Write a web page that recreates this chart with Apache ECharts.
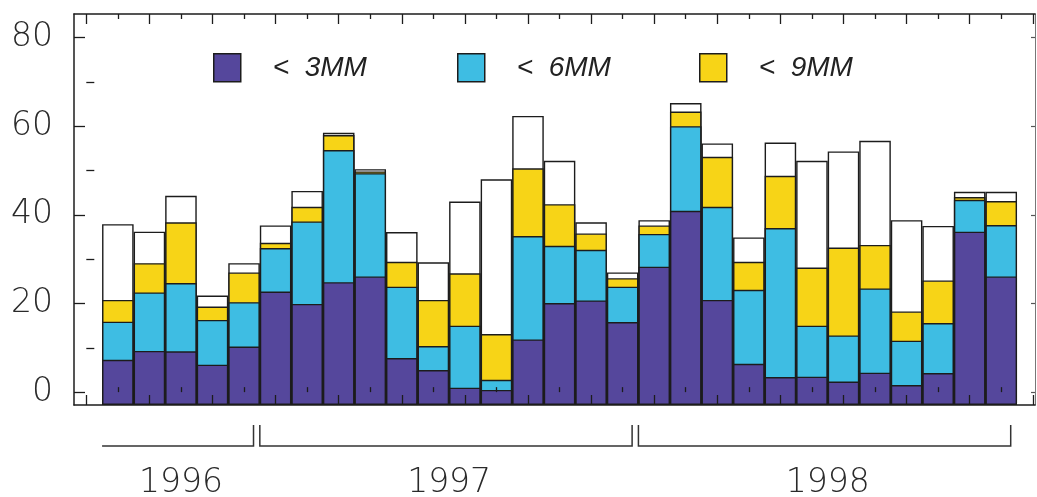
<!DOCTYPE html>
<html><head><meta charset="utf-8">
<script src="https://cdn.jsdelivr.net/npm/echarts@6/dist/echarts.min.js"></script>
<style>html,body{margin:0;padding:0;background:#fff}#c{width:1037px;height:497px}</style>
</head><body><div id="c"></div>
<script>
// ---- data ----
const barIndex = [1,2,3,4,5,6,7,8,9,10,11,12,13,14,15,16,17,18,19,20,21,22,23,24,25,26,27,28,29];
// cumulative heights of each bar
const lt3 = [7.3,9.3,9.2,6.2,10.3,22.7,19.9,24.8,26.1,7.7,5.0,1.0,0.5,11.9,20.1,20.7,15.8,28.3,40.9,20.8,6.4,3.4,3.5,2.4,4.4,1.6,4.3,36.2,26.1];
const lt6 = [15.9,22.5,24.6,16.3,20.3,32.5,38.5,54.6,49.4,23.8,10.4,15.0,2.8,35.2,33.0,32.1,23.8,35.7,60.0,41.8,23.1,37.0,15.0,12.8,23.4,11.6,15.6,43.4,37.7];
const lt9 = [20.8,29.1,38.3,19.3,27.0,33.7,41.8,58.0,49.8,29.4,20.8,26.8,13.1,50.5,42.4,35.8,25.7,37.6,63.3,53.1,29.4,48.8,28.1,32.6,33.2,18.2,25.2,44.0,43.1];
const total = [37.9,36.2,44.3,21.8,29.1,37.6,45.4,58.5,50.3,36.1,29.3,43.0,48.0,62.3,52.2,38.3,27.0,38.8,65.2,56.1,34.9,56.3,52.2,54.3,56.7,38.8,37.5,45.2,45.2];
const seriesNames = ['< 3MM', '< 6MM', '< 9MM'];
const years = ['1996', '1997', '1998'];
const yearSpans = [[1, 5], [6, 17], [18, 29]];
const yTickMajor = [0, 20, 40, 60, 80];
const yTickMinor = [10, 30, 50, 70];
const xTickMajor = [0,2,4,6,8,10,12,14,16,18,20,22,24,26,28,30];
const xTickMinor = [1,3,5,7,9,11,13,15,17,19,21,23,25,27,29];

// ---- layout / style ----
const YMIN = -2.9, YMAX = 85.3, XMIN = -0.39, XMAX = 30.07;
const GRID = { left: 74, right: 2, top: 14, bottom: 92, outerBoundsMode: 'none', containLabel: false };
const COLORS = { lt3: '#55479c', lt6: '#3ebde3', lt9: '#f7d417', rest: '#ffffff' };
const LINE = '#1c1c1c';
const FONT = 'DejaVu Sans';
const yearMid = yearSpans.map(s => (s[0] + s[1]) / 2);

const chart = echarts.init(document.getElementById('c'), null, { renderer: 'canvas' });

function barSeries(name, values, color) {
  return {
    name, type: 'bar', xAxisIndex: 0, yAxisIndex: 0,
    data: barIndex.map((x, i) => [x, values[i]]),
    barWidth: '100%', barGap: '-100%',
    itemStyle: { color, borderColor: LINE, borderWidth: 1.4 },
    emphasis: { disabled: true }, silent: true
  };
}
function legendAt(name, left) {
  return {
    data: [name], left, top: 53, padding: 0, icon: 'rect',
    itemWidth: 27, itemHeight: 28,
    itemStyle: { borderColor: LINE, borderWidth: 1.5 },
    formatter: n => n.replace('< ', '<  '),
    textStyle: { fontFamily: 'Liberation Sans', fontStyle: 'italic', fontSize: 28, color: '#222', padding: [0, 0, 0, 27] },
    selectedMode: false
  };
}
const xBase = { type: 'value', min: XMIN, max: XMAX, splitLine: { show: false }, z: 5 };
const yBase = { type: 'value', min: YMIN, max: YMAX, splitLine: { show: false }, z: 5 };

chart.setOption({
  animation: false,
  backgroundColor: '#fff',
  grid: [Object.assign({}, GRID), Object.assign({}, GRID)],
  legend: [legendAt(seriesNames[0], 213), legendAt(seriesNames[1], 457), legendAt(seriesNames[2], 699)],
  xAxis: [
    Object.assign({}, xBase, { gridIndex: 0, position: 'bottom',
      axisLine: { show: true, onZero: false, lineStyle: { color: LINE, width: 1.5 } },
      axisTick: { show: true, inside: true, length: 10, customValues: xTickMajor, lineStyle: { color: LINE, width: 1.3 } },
      axisLabel: { show: true, customValues: yearMid, margin: 62, fontFamily: FONT, fontWeight: 300, fontSize: 33, color: '#2a2a2a',
        formatter: v => { const k = yearMid.findIndex(m => Math.abs(m - v) < 1e-6); return k >= 0 ? years[k] : ''; } } }),
    Object.assign({}, xBase, { gridIndex: 0, position: 'top',
      axisLine: { show: true, onZero: false, lineStyle: { color: LINE, width: 1.5 } },
      axisTick: { show: true, inside: true, length: 10, customValues: xTickMajor, lineStyle: { color: LINE, width: 1.3 } },
      axisLabel: { show: false } }),
    Object.assign({}, xBase, { gridIndex: 1, position: 'bottom',
      axisLine: { show: false },
      axisTick: { show: true, inside: true, length: 5, customValues: xTickMinor, lineStyle: { color: LINE, width: 1.3 } },
      axisLabel: { show: false } }),
    Object.assign({}, xBase, { gridIndex: 1, position: 'top',
      axisLine: { show: false },
      axisTick: { show: true, inside: true, length: 5, customValues: xTickMinor, lineStyle: { color: LINE, width: 1.3 } },
      axisLabel: { show: false } })
  ],
  yAxis: [
    Object.assign({}, yBase, { gridIndex: 0, position: 'left', startValue: YMIN,
      axisLine: { show: true, onZero: false, lineStyle: { color: LINE, width: 1.5 } },
      axisTick: { show: true, inside: true, length: 11, customValues: yTickMajor, lineStyle: { color: LINE, width: 1.3 } },
      axisLabel: { show: true, customValues: yTickMajor, margin: 21, fontFamily: FONT, fontWeight: 300, fontSize: 33, color: '#2a2a2a' } }),
    Object.assign({}, yBase, { gridIndex: 0, position: 'right',
      axisLine: { show: true, onZero: false, lineStyle: { color: '#777', width: 1 } },
      axisTick: { show: true, inside: true, length: 4, customValues: yTickMajor, lineStyle: { color: '#555', width: 1.2 } },
      axisLabel: { show: false } }),
    Object.assign({}, yBase, { gridIndex: 1, position: 'left',
      axisLine: { show: false },
      axisTick: { show: true, inside: true, length: 8, customValues: yTickMinor, lineStyle: { color: LINE, width: 1.3 } },
      axisLabel: { show: false } })
  ],
  series: [
    barSeries('total', total, COLORS.rest),
    barSeries(seriesNames[2], lt9, COLORS.lt9),
    barSeries(seriesNames[1], lt6, COLORS.lt6),
    barSeries(seriesNames[0], lt3, COLORS.lt3)
  ]
});

// year brackets below the axis, positioned through the x axis scale
const BR_Y = 446, BR_TOP = 425;
const brackets = [];
yearSpans.forEach((s, i) => {
  const x0 = chart.convertToPixel({ xAxisIndex: 0 }, s[0] - 0.5);
  const x1 = chart.convertToPixel({ xAxisIndex: 0 }, s[1] + 0.3);
  const pts = i === 0 ? [[x0, BR_Y], [x1, BR_Y], [x1, BR_TOP]] : [[x0, BR_TOP], [x0, BR_Y], [x1, BR_Y], [x1, BR_TOP]];
  brackets.push({ type: 'polyline', shape: { points: pts }, style: { stroke: '#333', lineWidth: 1.5, fill: null }, silent: true });
});
chart.setOption({ graphic: brackets });
</script></body></html>
